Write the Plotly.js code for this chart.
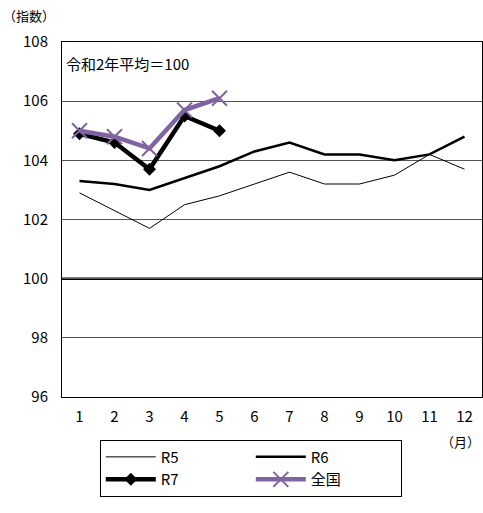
<!DOCTYPE html>
<html><head><meta charset="utf-8">
<script src="https://cdn.plot.ly/plotly-3.0.1.min.js"></script>
<style>html,body{margin:0;padding:0;background:#fff}#c{width:483px;height:513px}</style>
</head><body><div id="c"></div>
<script>
const months = [1,2,3,4,5,6,7,8,9,10,11,12];
const r5 = [102.9,102.3,101.7,102.5,102.8,103.2,103.6,103.2,103.2,103.5,104.2,103.7];
const r6 = [103.3,103.2,103.0,103.4,103.8,104.3,104.6,104.2,104.2,104.0,104.2,104.8];
const r7Months = [1,2,3,4,5];
const r7 = [104.9,104.6,103.7,105.5,105.0];
const zenkoku = [105.0,104.8,104.4,105.7,106.1];
const yTicks = [96,98,100,102,104,106,108];
const FONT = '"Noto Sans CJK JP", "DejaVu Sans", sans-serif';

const traces = [
  {x: months, y: r5, name: 'R5', mode: 'lines', line: {color: '#000', width: 1}},
  {x: months, y: r6, name: 'R6', mode: 'lines', line: {color: '#000', width: 2.5}},
  {x: r7Months, y: r7, name: 'R7', mode: 'lines+markers', line: {color: '#000', width: 4.5},
   marker: {symbol: 'diamond', size: 10, color: '#000'}},
  {x: r7Months, y: zenkoku, name: '全国', mode: 'lines+markers', line: {color: '#8064A2', width: 4.5},
   marker: {symbol: 'x-thin-open', size: 15, line: {color: '#8064A2', width: 2}}}
];

const layout = {
  width: 483, height: 513,
  margin: {l: 62, r: 1, t: 42, b: 116},
  paper_bgcolor: '#fff', plot_bgcolor: '#fff',
  font: {family: FONT, size: 15, color: '#000'},
  showlegend: true,
  xaxis: {range: [0.5, 12.5], tickvals: months, ticktext: months.map(String), ticks: '',
          showgrid: false, zeroline: false, showline: true, mirror: true, linecolor: '#000', linewidth: 1,
          ticklabelstandoff: 6, tickfont: {size: 15}, automargin: false},
  yaxis: {range: [96, 108], tickvals: yTicks, ticks: '', showgrid: true, gridcolor: '#555', gridwidth: 1,
          zeroline: false, showline: true, mirror: true, linecolor: '#000', linewidth: 1,
          ticklabelstandoff: 10, tickfont: {size: 15}, automargin: false},
  shapes: [
    {type: 'line', xref: 'paper', x0: 0, x1: 1, yref: 'y', y0: 100, y1: 100, line: {color: '#000', width: 2.5}, layer: 'below'}
  ],
  annotations: [
    {text: '令和2年平均＝100', xref: 'paper', yref: 'paper', x: 0.005, y: 0.94, xanchor: 'left', yanchor: 'middle', showarrow: false, font: {size: 15}},
    {text: '（指数）', xref: 'paper', yref: 'paper', x: -0.145, y: 1.075, xanchor: 'left', yanchor: 'middle', showarrow: false, font: {size: 13}},
    {text: '（月）', xref: 'paper', yref: 'paper', x: 1.0, y: -0.092, xanchor: 'right', yanchor: 'top', showarrow: false, font: {size: 13}}
  ],
  legend: {orientation: 'h', x: 0.09, y: -0.12, xanchor: 'left', yanchor: 'top',
           bordercolor: '#000', borderwidth: 1, entrywidth: 85, entrywidthmode: 'pixels',
           font: {size: 15}, itemwidth: 50, tracegroupgap: 0}
};
Plotly.newPlot('c', traces, layout, {displayModeBar: false, staticPlot: true});
</script></body></html>
